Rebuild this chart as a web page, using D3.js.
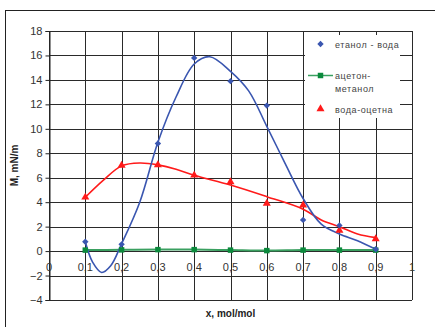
<!DOCTYPE html>
<html>
<head>
<meta charset="utf-8">
<script src="https://cdn.jsdelivr.net/npm/d3@7"></script>
<style>
  body { margin: 0; background: #fff; }
  svg { display: block; font-family: "Liberation Sans", Arial, sans-serif; }
</style>
</head>
<body>
<div id="chart"></div>
<script>
// measured points
const xs = [0.1, 0.2, 0.3, 0.4, 0.5, 0.6, 0.7, 0.8, 0.9];
const ethanolWater = [0.76, 0.55, 8.8, 15.8, 13.9, 11.9, 2.55, 2.1, 0.15];
const acetoneMethanol = [0.08, 0.1, 0.12, 0.12, 0.08, 0.04, 0.08, 0.08, 0.08];
const waterAcetic = [4.4, 7.0, 7.05, 6.2, 5.65, 3.9, 3.75, 1.7, 1.0];

// smoothed curves
const ethTrendX = [0.1, 0.12, 0.145, 0.17, 0.2, 0.25, 0.3, 0.35, 0.4, 0.443, 0.5, 0.55, 0.6, 0.65, 0.7, 0.75, 0.8, 0.85, 0.9];
const ethTrendY = [0.76, -0.9, -1.75, -1.2, 0.6, 4.0, 8.9, 12.6, 15.3, 15.9, 14.7, 13.1, 10.2, 7.2, 4.3, 2.2, 1.4, 0.85, 0.15];
const accTrendX = [0.1, 0.15, 0.2, 0.25, 0.3, 0.35, 0.4, 0.5, 0.6, 0.7, 0.75, 0.8, 0.85, 0.9];
const accTrendY = [4.4, 5.8, 6.97, 7.2, 7.05, 6.7, 6.2, 5.4, 4.45, 3.43, 2.55, 2.0, 1.4, 1.1];

const xTicks = [0, 0.1, 0.2, 0.3, 0.4, 0.5, 0.6, 0.7, 0.8, 0.9, 1];
const yTicks = [-4, -2, 0, 2, 4, 6, 8, 10, 12, 14, 16, 18];

const W = 435, H = 327;
const svg = d3.select("#chart").append("svg").attr("width", W).attr("height", H);

// chart frame
svg.append("rect").attr("x", 5.5).attr("y", 10.5).attr("width", 440).attr("height", 330)
    .attr("fill", "none").attr("stroke", "#222").attr("stroke-width", 1);

const pLeft = 49, pRight = 412, pTop = 31, pBottom = 300;
const x = d3.scaleLinear().domain([0, 1]).range([pLeft, pRight]);
const y = d3.scaleLinear().domain([-4, 18]).range([pBottom, pTop]);

// grid
const grid = svg.append("g").attr("stroke", "#2a2a2a").attr("stroke-width", 1);
grid.selectAll(".vx").data(xTicks).enter().append("line")
    .attr("x1", d => Math.round(x(d)) + 0.5).attr("x2", d => Math.round(x(d)) + 0.5)
    .attr("y1", pTop).attr("y2", pBottom);
grid.selectAll(".hy").data(yTicks).enter().append("line")
    .attr("y1", d => Math.round(y(d)) + 0.5).attr("y2", d => Math.round(y(d)) + 0.5)
    .attr("x1", pLeft).attr("x2", pRight);

// y axis
const yAxis = svg.append("g").attr("transform", `translate(${pLeft + 0.5},0)`)
    .call(d3.axisLeft(y).tickValues(yTicks).tickSize(4).tickFormat(d3.format("d")));
yAxis.select(".domain").attr("stroke", "#222");
yAxis.selectAll(".tick line").attr("stroke", "#222");
yAxis.selectAll("text").attr("font-size", 11).attr("fill", "#333").attr("x", -7)
    .attr("font-family", "Liberation Sans, Arial, sans-serif");

// x tick labels sit just under the zero line
svg.append("g").selectAll("text").data(xTicks).enter().append("text")
    .attr("x", d => x(d)).attr("y", y(0) + 20)
    .attr("text-anchor", "middle").attr("font-size", 11).attr("fill", "#333")
    .text(d => String(d).replace(".", ","));

// axis titles
svg.append("text").attr("x", x(0.5)).attr("y", 317).attr("text-anchor", "middle")
    .attr("font-size", 10).attr("font-weight", "bold").attr("fill", "#222").text("x, mol/mol");
svg.append("text").attr("transform", `translate(18,${(pTop + pBottom) / 2}) rotate(-90)`)
    .attr("text-anchor", "middle").attr("font-size", 10).attr("font-weight", "bold")
    .attr("fill", "#222").text("M, mN/m");

const blue = "#3a56b0", green = "#0b8a3c", red = "#ff1a1a";
const line = d3.line().curve(d3.curveCatmullRom.alpha(0.5));

const plot = svg.append("g");
plot.append("path")
    .attr("d", line(xs.map((d, i) => [x(d), y(acetoneMethanol[i])])))
    .attr("fill", "none").attr("stroke", "#3aa060").attr("stroke-width", 2);
plot.append("path")
    .attr("d", line(accTrendX.map((d, i) => [x(d), y(accTrendY[i])])))
    .attr("fill", "none").attr("stroke", red).attr("stroke-width", 1.6);
plot.append("path")
    .attr("d", line(ethTrendX.map((d, i) => [x(d), y(ethTrendY[i])])))
    .attr("fill", "none").attr("stroke", blue).attr("stroke-width", 1.6);

const diamond = d3.symbol().type(d3.symbolDiamond2).size(26);
const square = d3.symbol().type(d3.symbolSquare).size(30);
const triangle = d3.symbol().type(d3.symbolTriangle).size(28);

plot.selectAll(".ms").data(xs).enter().append("path")
    .attr("transform", (d, i) => `translate(${x(d)},${y(acetoneMethanol[i])})`)
    .attr("d", square).attr("fill", green);
plot.selectAll(".mt").data(xs).enter().append("path")
    .attr("transform", (d, i) => `translate(${x(d)},${y(waterAcetic[i])})`)
    .attr("d", triangle).attr("fill", red);
plot.selectAll(".md").data(xs).enter().append("path")
    .attr("transform", (d, i) => `translate(${x(d)},${y(ethanolWater[i])})`)
    .attr("d", diamond).attr("fill", blue);

// legend
const lg = svg.append("g");
lg.append("rect").attr("x", 305).attr("y", 35).attr("width", 95).attr("height", 83).attr("fill", "#fff");
const lgText = (ty, s) => lg.append("text").attr("x", 335).attr("y", ty).attr("font-size", 9)
    .attr("letter-spacing", 0.6).attr("fill", "#444").text(s);
lg.append("path").attr("transform", "translate(320.5,44)").attr("d", diamond).attr("fill", blue);
lgText(47.5, "етанол - вода");
lg.append("line").attr("x1", 308).attr("x2", 333).attr("y1", 75.5).attr("y2", 75.5)
    .attr("stroke", "#3aa060").attr("stroke-width", 1.5);
lg.append("path").attr("transform", "translate(320.5,75.5)").attr("d", square).attr("fill", green);
lgText(79, "ацетон-");
lgText(92, "метанол");
lg.append("path").attr("transform", "translate(320.5,109)").attr("d", triangle).attr("fill", red);
lgText(112.5, "вода-оцетна");
</script>
</body>
</html>
